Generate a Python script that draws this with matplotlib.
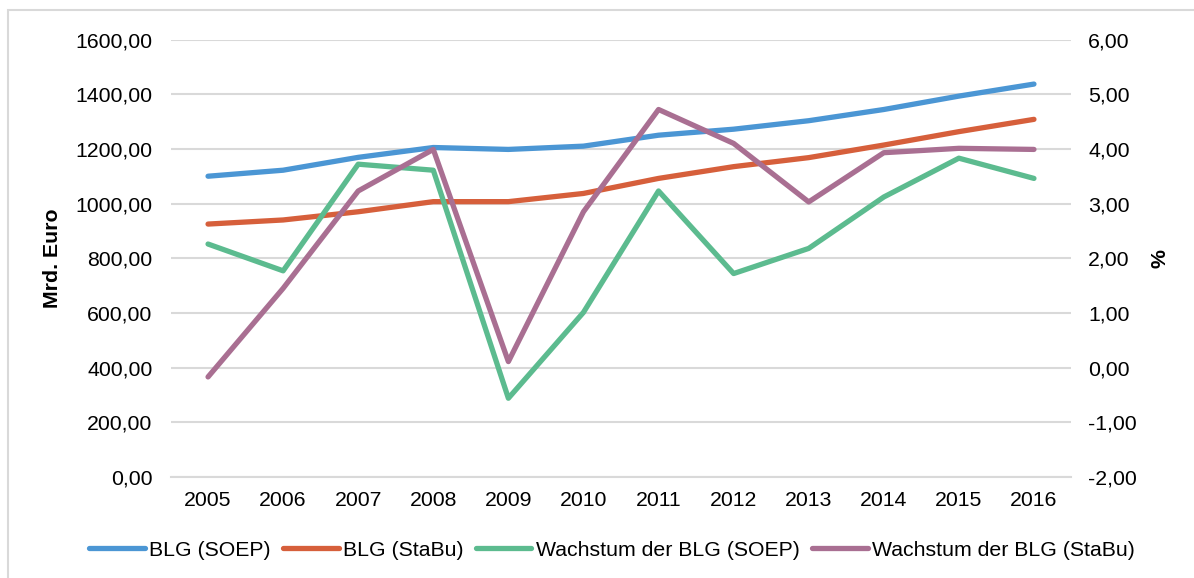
import matplotlib.pyplot as plt
from matplotlib.patches import Rectangle
from matplotlib.ticker import FuncFormatter

plt.rcParams['font.family'] = ['Liberation Sans', 'DejaVu Sans']

# data
years = [2005, 2006, 2007, 2008, 2009, 2010, 2011, 2012, 2013, 2014, 2015, 2016]
blg_soep = [1100, 1122, 1169, 1205, 1198, 1210, 1250, 1272, 1303, 1344, 1393, 1437]
blg_stabu = [925, 940, 970, 1007, 1007, 1037, 1092, 1135, 1168, 1214, 1263, 1308]
growth_soep = [2.26, 1.77, 3.72, 3.61, -0.56, 1.01, 3.23, 1.72, 2.18, 3.12, 3.83, 3.46]
growth_stabu = [-0.17, 1.45, 3.23, 3.99, 0.11, 2.85, 4.72, 4.10, 3.03, 3.93, 4.01, 3.99]

labels = ['BLG (SOEP)', 'BLG (StaBu)', 'Wachstum der BLG (SOEP)', 'Wachstum der BLG (StaBu)']
colors = ['#4b96d4', '#d65f3b', '#5cbb8f', '#a96f92']

FS = 15.3
LW = 3.8


def comma_fmt(v, pos):
    return ('%.2f' % v).replace('.', ',')


fig = plt.figure(figsize=(11.94, 5.78), dpi=100)
ax = fig.add_axes([170.5 / 1194, 1 - 477 / 578, 901 / 1194, 437.5 / 578])
ax2 = ax.twinx()

# light frame around the chart
fig.patches.append(Rectangle((8 / 1194, -0.05), 1.1, 1 - 10 / 578 + 0.05,
                             transform=fig.transFigure, fill=False,
                             edgecolor='#d9d9d9', linewidth=1.5))

x = list(range(len(years)))
lines = []
lines += ax.plot(x, blg_soep, color=colors[0], lw=LW, solid_capstyle='round', label=labels[0])
lines += ax.plot(x, blg_stabu, color=colors[1], lw=LW, solid_capstyle='round', label=labels[1])
lines += ax2.plot(x, growth_soep, color=colors[2], lw=LW, solid_capstyle='round', label=labels[2])
lines += ax2.plot(x, growth_stabu, color=colors[3], lw=LW, solid_capstyle='round', label=labels[3])

ax.set_xlim(-0.5, len(years) - 0.5)
ax.set_ylim(0, 1600)
ax2.set_ylim(-2, 6)
ax.set_yticks(range(0, 1601, 200))
ax2.set_yticks(range(-2, 7))
ax.yaxis.set_major_formatter(FuncFormatter(comma_fmt))
ax2.yaxis.set_major_formatter(FuncFormatter(comma_fmt))
ax.set_xticks(x)
ax.set_xticklabels([str(y) for y in years])

ax.grid(axis='y', color='#d9d9d9', linewidth=1.5)
ax.set_axisbelow(True)
for a in (ax, ax2):
    for s in a.spines.values():
        s.set_visible(False)
ax.spines['bottom'].set_visible(True)
ax.spines['bottom'].set_color('#d9d9d9')
ax.spines['bottom'].set_linewidth(1.5)

ax.tick_params(axis='y', length=0, pad=13, labelsize=FS, colors='#000000')
ax2.tick_params(axis='y', length=0, pad=12, labelsize=FS, colors='#000000')
ax.tick_params(axis='x', length=0, pad=10, labelsize=FS)

ax.set_ylabel('Mrd. Euro', fontsize=FS, fontweight='bold', labelpad=10)
ax2.set_ylabel('%', fontsize=FS, fontweight='bold', labelpad=10)

fig.legend(lines, labels, loc='center', bbox_to_anchor=(612 / 1194, 1 - 550 / 578),
           ncol=4, frameon=False, fontsize=FS, handlelength=2.6, handletextpad=0.2,
           columnspacing=0.6)

fig.savefig('out.png', dpi=100)
